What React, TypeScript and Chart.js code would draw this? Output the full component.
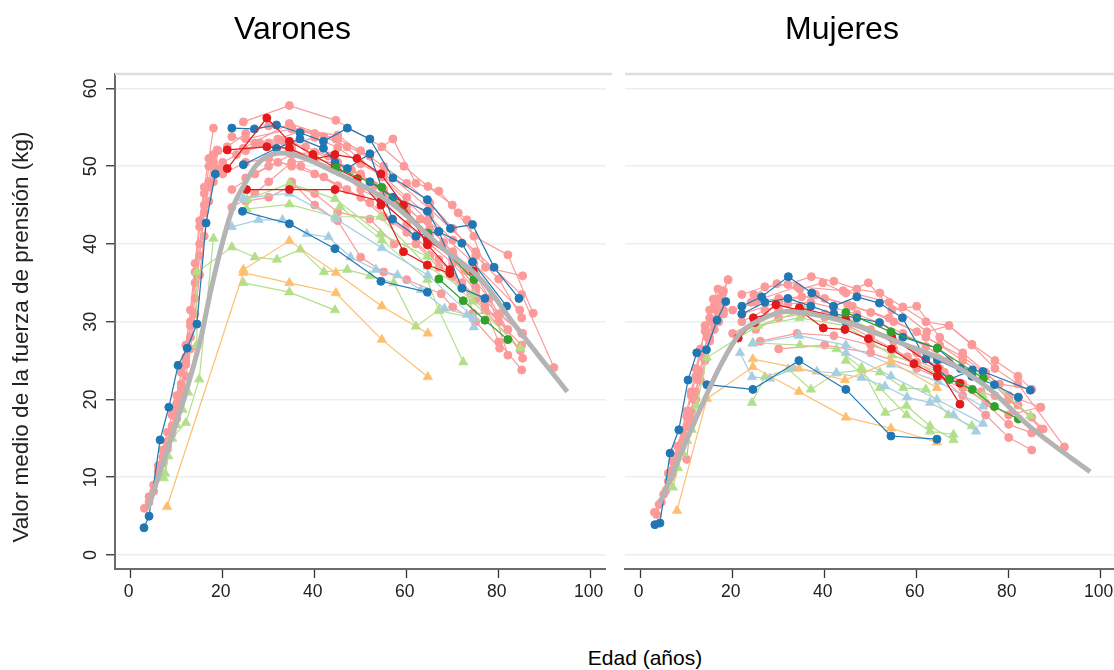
import React, { useEffect, useRef } from "react";
import { Chart, registerables } from "chart.js";
Chart.register(...registerables);

type Pt = [number, number];

const FONT = '"Liberation Sans", Arial, Helvetica, sans-serif';
const COLORS = {
  pink: "#fb9a99",
  blue: "#1f78b4",
  red: "#e31a1c",
  green: "#33a02c",
  lgreen: "#b2df8a",
  lblue: "#a6cee3",
  orange: "#fdbf6f",
  grey: "#b4b4b4",
};

const xTicks = [0, 20, 40, 60, 80, 100];
const yTicks = [0, 10, 20, 30, 40, 50, 60];
const panelTitles = ["Varones", "Mujeres"];
const yTitle = "Valor medio de la fuerza de prensión (kg)";
const xTitle = "Edad (años)";

// ---------------- VARONES ----------------
const menFit: Pt[] = [
  [3.8, 6.0], [15.1, 27.5], [17.3, 33.7], [20.1, 40.5], [22.3, 44.8], [24.5, 47.4],
  [27.4, 50.2], [32.5, 51.7], [45.6, 48.9], [56.5, 45.3], [67.5, 39.6], [76.2, 35.4],
  [82.7, 30.2], [94.9, 21.0],
];

const menPinkChild: Pt[][] = [
  [[3, 6], [4, 7.5], [5, 9], [6, 10.8], [7, 12.6], [8, 14.6], [9, 16.6], [10, 18.8], [11, 21.5], [12, 24.5], [13, 28], [14, 33], [15, 38.5], [16, 44], [17, 48], [18, 51.5]],
  [[4, 6.8], [5, 8.2], [6, 10], [7, 11.8], [8, 13.6], [9, 15.6], [10, 17.5], [11, 20], [12, 23], [13, 26.5], [14, 31], [15, 36], [16, 41], [17, 45.5], [18, 48], [19, 52]],
  [[6, 11.5], [7, 13.5], [8, 15.8], [9, 18], [10, 20.5], [11, 23.5], [12, 27], [13, 31.5], [14, 37.5], [15, 43], [16, 47.3], [17, 51], [18, 54.9]],
  [[7, 12], [8, 14], [9, 16], [10, 18], [11, 21], [12, 25], [13, 29.5], [14, 35], [15, 40], [16, 45], [17, 50], [18, 50.5]],
  [[10, 19.5], [11, 22], [12, 25.5], [13, 30], [14, 36.4], [15, 42.2], [16, 46.5], [17, 47.3], [18, 50], [19.4, 49.7]],
];

const menPinkAdult: Pt[][] = [
  [[24.5, 55.7], [34.5, 57.8], [44.6, 55.9], [54.6, 52.5], [59.4, 50.0], [64.6, 47.4], [69.9, 45.0], [74.6, 41.0], [82, 38.6], [87.5, 31.1]],
  [[21, 52.5], [25, 54.2], [30, 55.2], [35, 55.0], [40, 54.2], [45, 53.5], [50, 52.0], [55, 50.0], [60, 47.8], [65, 45.3], [70, 42], [75, 38.5], [80, 35.5], [85, 30.5]],
  [[22, 53.8], [27, 53.0], [32, 53.5], [37, 54.5], [42, 53.8], [47, 52.5], [52, 51.3], [57, 53.5], [62, 47.8], [67, 46.8], [71.2, 44.0], [73.1, 43.1], [77.1, 37.0], [85.2, 35.9]],
  [[20, 50.5], [25, 52], [30, 52.8], [35, 52.2], [40, 51], [45, 50.2], [50, 48.8], [55, 47], [60, 44.8], [65, 42], [70, 39], [75, 36], [80, 31], [85, 28.5]],
  [[22, 44.7], [27, 46.5], [30, 48], [35, 50.5], [40, 50.8], [45, 49.5], [50, 47], [55, 45.5], [60, 42.5], [65, 40], [70, 37.5], [75, 34], [80, 31.0], [85.2, 25.3]],
  [[25, 48.5], [30, 50], [35, 51.5], [40, 51.8], [45, 50.5], [50, 49], [55, 46.5], [60, 44], [65, 41], [70, 38], [75, 34.5], [80, 27.4], [85, 23.8]],
  [[18.8, 52.1], [23, 51.5], [28, 53], [33, 53.3], [38, 52.5], [43, 51.3], [48, 49.5], [53, 47.5], [58, 45.5], [63, 43.2], [68, 40.2], [73, 36.5], [78, 33], [82, 25.7]],
  [[25, 53.5], [35, 54.8], [45, 54], [55, 49.5], [65, 44.5], [75, 39], [85, 33.5], [92, 24.1]],
  [[30, 53], [35, 52.8], [40, 53.7], [45, 52.4], [50, 50.3], [55, 48.7], [60, 46], [65, 43.5], [70, 40.5], [74.4, 31.1], [80.2, 31.0], [85.2, 28.5]],
  [[35, 48], [40, 45], [45, 43], [50, 38.3], [55, 36.4], [60, 35.4], [67.5, 33.6], [70, 31.9], [75, 30], [80.2, 26.6]],
  [[25, 45.5], [30, 46], [35, 47.5], [40, 46.5], [45, 44.1], [52, 43.2], [57.3, 40], [62, 40], [67, 37], [72, 34.5], [77, 31.5], [84.7, 26.3]],
  [[20, 49], [25, 50.5], [30, 51], [35, 50], [40, 49], [45, 47.5], [50, 46], [55, 43.5], [60, 41.5], [65, 38.5], [70, 35.8], [75, 33], [80, 30], [85, 27]],
  [[24.5, 52.3], [34.5, 55.5], [44.6, 53.5], [54.6, 48.6], [64.6, 43], [74.6, 37.5], [84.6, 31.5]],
  [[22, 47], [27, 49], [32, 50.5], [37, 50], [42, 48.6], [47, 47], [52, 45.3], [57, 43], [62, 40.8], [67, 38], [72, 35], [77, 32], [82, 29]],
];

const menBlue: Pt[][] = [
  [[2.9, 3.5], [4, 5], [6.4, 14.8], [8.3, 19], [10.3, 24.4], [12.3, 26.6], [14.4, 29.7], [16.4, 42.7], [18.4, 49]],
  [[22, 54.9], [26.9, 54.8], [31.7, 55.3], [36.8, 54.3], [41.9, 53.2], [47.1, 54.9], [52, 53.5], [57, 48.5], [64.5, 45.7], [69.5, 42], [74.3, 42.5], [79, 37], [84.4, 33.0]],
  [[24.5, 50.2], [31.7, 52.3], [36.8, 53.5], [41.9, 52.3], [44.4, 50.5], [47.1, 49.7], [52, 51.6], [56.9, 43.2], [62, 41.0], [66.9, 41.6], [72, 40.1], [74.3, 37.7], [81.7, 32.0]],
  [[24.3, 44.2], [34.5, 42.6], [44.4, 39.4], [54.4, 35.2], [64.5, 33.8]],
  [[52, 48], [57, 46], [64.5, 44.2], [67, 41.6], [72, 34.3], [77, 33]],
];

const menRed: Pt[][] = [
  [[21, 52.1], [29.6, 52.5], [34.5, 52.3], [39.6, 50.9], [44.4, 51.5], [49.2, 51.0], [54.4, 49.0], [59.3, 45], [64.5, 39.9], [69.4, 36.7]],
  [[21, 49.7], [29.6, 56.2], [34.5, 53.2], [39.6, 51.5], [44.4, 49.8], [49.3, 48.4], [54.4, 45.0], [59.3, 39.0], [64.5, 37.3], [69.4, 36.2]],
  [[25.2, 47], [34.5, 47], [44.4, 47], [54.4, 45.5], [64.5, 40.5], [74.5, 36.5]],
];

const menGreen: Pt[][] = [
  [[44.6, 49.8], [54.6, 47.3], [64.6, 41.4], [74.6, 35.4]],
  [[67, 35.5], [72.3, 32.7], [77, 30.2], [82, 27.7]],
];

const menLGreen: Pt[][] = [
  [[7.2, 9.9], [8.2, 12.7], [9, 15], [10, 16.7], [11.3, 18.7], [12.5, 20.9], [14.3, 27], [14.4, 36.4], [22, 39.6], [27, 38.3], [31.8, 38.0], [36.9, 39.3], [42, 36.4], [47.1, 36.7], [52, 35.9], [57.2, 35], [62, 29.4], [67, 31.5], [72.3, 24.8]],
  [[7.5, 10.5], [8.9, 15], [12, 17.0], [14.9, 22.6], [18, 40.7]],
  [[25.3, 45.7], [34.5, 47.8], [44.4, 45.8], [54.3, 41.3], [64.5, 38.4], [74.3, 32.6], [84.7, 26.6]],
  [[25.2, 44.5], [34.5, 45.1], [44.4, 43.5], [54.3, 43.5], [64.5, 37.1], [74.6, 33.5]],
  [[24.5, 35.0], [34.5, 33.8], [44.4, 31.5]],
  [[45.5, 44.8], [54.6, 40.5], [64.5, 35.4], [67, 31.4], [74.6, 30.5]],
];

const menLBlue: Pt[][] = [
  [[22, 42.2], [27.8, 43.1], [33, 43.1], [38.3, 41.3], [43, 40.9], [47.8, 38.3], [53.3, 36.7], [58, 36.0], [63.1, 34.1], [68.2, 31.7], [73.1, 30.9], [74.6, 29.3]],
  [[24.5, 45.9], [34.5, 46.5], [44.6, 43.2], [54.6, 39.5], [64.6, 36], [74.6, 30.5]],
];

const menOrange: Pt[][] = [
  [[7.9, 6.2], [24.5, 36.3], [34.5, 35.0], [44.6, 33.7], [54.6, 27.7], [64.6, 22.9]],
  [[24.5, 36.7], [34.5, 40.4], [44.6, 36.3], [54.6, 32.0], [64.6, 28.5]],
];

// ---------------- MUJERES ----------------
const womenFit: Pt[] = [
  [4.2, 6.7], [12.9, 18.7], [17.2, 24.2], [21.6, 28.5], [25.9, 30.2], [31.8, 31.3],
  [40.5, 30.6], [45.5, 29.8], [56.4, 27.3], [67.2, 24.7], [75.9, 21.3], [84.6, 16.5], [97.7, 10.7],
];

const womenPinkChild: Pt[][] = [
  [[3, 5.5], [4, 6.5], [5, 7.8], [6, 9.5], [7, 11], [8, 12.8], [9, 14.5], [10, 16.5], [11, 18.5], [12, 21], [13, 23.5], [14, 26], [15, 28], [16, 30], [17, 31], [18, 31.5]],
  [[3.5, 5.2], [4.5, 6.8], [5.5, 8.3], [6.5, 10], [7.5, 11.8], [8.5, 13.6], [9.5, 15.3], [10.5, 17.5], [11.5, 20], [12.5, 22.5], [13.5, 25.5], [14.5, 28], [15.5, 30], [16.5, 31.5], [17.5, 32.5]],
  [[6, 10.5], [7, 12], [8, 14], [9, 16], [10, 18.5], [11, 21], [12, 24], [13, 26.5], [14, 28.8], [15, 30.5], [16, 32], [17, 33], [18, 34], [19, 35.4]],
  [[7, 10.5], [8, 12.5], [9, 14], [10, 12.3], [11, 17.5], [12, 20], [13, 22.5], [14, 25], [15, 27.5], [16, 29], [17, 30], [18, 31]],
  [[9, 16], [10, 17.8], [11, 20.5], [12, 23], [13, 26], [14, 29.5], [15, 31.5], [15.8, 32.9], [16.8, 34.2], [17.9, 33.7], [19, 35.4]],
];

const womenPinkAdult: Pt[][] = [
  [[22, 33.5], [27, 34.5], [32, 34.8], [37.1, 35.8], [42, 35.2], [47, 34.2], [52, 33.7], [57, 31.9], [62, 30], [67, 29.5], [72, 27.1], [77, 25.0], [82, 23.0], [85, 21.3]],
  [[24.6, 33.5], [29.6, 34.9], [34.6, 34.2], [39.6, 35.0], [44.6, 33.7], [49.5, 35.0], [54.6, 31.5], [60, 32.0], [65, 28], [70, 26], [75, 23.5], [80, 20.5], [87, 19.0]],
  [[20, 31.5], [25, 32.5], [30, 33], [35, 33.2], [40, 33], [45, 32.2], [50, 31.2], [55, 30], [60, 28.7], [65, 27], [70, 25], [75, 23], [80, 20], [85, 17.7]],
  [[22, 30], [27, 31.5], [32, 32.3], [37, 32.5], [42, 31.8], [47, 31], [52, 29.8], [57, 28.5], [62, 26.8], [67, 25], [72, 23], [77, 20.5], [82, 19.3], [87, 16.2]],
  [[25, 29], [30, 30.5], [35, 31], [40, 30.6], [45, 30], [50, 29], [55, 27.5], [60, 26], [65, 24], [70, 22], [75, 19.5], [80, 16.8], [85, 15.7]],
  [[20, 28.5], [25, 30], [30, 31.5], [35, 31.5], [40, 31], [45, 29.5], [50, 28], [55, 26.5], [60, 24.8], [65, 23], [70, 20.5], [75, 18], [80, 15.1], [85, 13.5]],
  [[24, 32.5], [34, 34.5], [44, 34], [54, 32.5], [62.2, 28.7], [67, 29.5], [72, 27], [77, 24], [82, 22], [92.1, 13.9]],
  [[22, 31], [30, 32.5], [38, 33.5], [46, 32], [54, 30.5], [62, 28], [70, 25.5], [78, 22], [84.9, 21.3]],
  [[26, 27.5], [34, 28.5], [42, 28.2], [50, 27], [58, 25.5], [66, 23.5], [74, 21], [82, 19.3], [87.5, 16.2]],
  [[30, 26.5], [40, 27], [50, 26], [60, 24], [70, 21.5], [80, 18], [86.8, 19.0]],
];

const womenBlue: Pt[][] = [
  [[3.1, 3.9], [4.2, 4.1], [6.4, 13.1], [8.3, 16.1], [10.3, 22.5], [12.2, 26], [14.3, 26.4], [16.6, 30.2], [18.5, 32.6]],
  [[22, 32], [26.3, 33.2], [32.1, 35.8], [37.2, 33.7], [41.9, 32.0], [47, 33.2], [51.9, 32.4], [56.9, 30.5], [62, 25.2], [67.1, 22.6], [72.1, 23.8]],
  [[22, 31], [27, 32.5], [32, 33], [37, 32], [42, 31], [47, 30.5], [51.9, 29.9], [57, 28], [64.5, 26.6], [69.5, 24], [74.4, 23.6], [84.7, 21.2]],
  [[44.6, 30], [54.6, 28], [64.5, 25.1], [72, 23], [76.9, 21.9], [82.1, 20.3]],
  [[14.4, 21.9], [24.4, 21.3], [34.4, 25.0], [44.6, 21.3], [54.4, 15.3], [64.4, 14.9]],
];

const womenRed: Pt[][] = [
  [[21.2, 27.9], [24.8, 29.9], [29.4, 32.2], [34.5, 31.5], [39.7, 29.2], [44.4, 29.0], [49.5, 27.8], [54.5, 26.5], [59.4, 24.6], [64.5, 23], [69.4, 22.1]],
  [[24.5, 30.5], [34.5, 31.8], [44.5, 30.3], [54.5, 28.0], [64.5, 24.0], [69.4, 19.4]],
];

const womenGreen: Pt[][] = [
  [[44.6, 31.2], [54.4, 28.7], [64.5, 26.6], [74.5, 22.7]],
  [[67.1, 22.6], [72.1, 21.3], [76.9, 19.1], [82.1, 17.5]],
];

const womenLGreen: Pt[][] = [
  [[7, 8.7], [8.1, 11.2], [9.2, 13.1], [10.1, 14.7], [11.1, 16.1], [12.2, 19.2], [14.4, 25.4], [25.5, 29.5], [35.6, 31.5], [44.6, 30.5], [54.5, 28], [64.5, 25], [74.4, 23.2], [84.7, 17.9]],
  [[24.4, 27.3], [34.6, 27.0], [42.6, 26.5], [48, 24.1], [53.2, 18.3], [57.8, 19.2], [62.9, 16.6], [68, 14.8]],
  [[24.2, 19.6], [27, 22.9], [32.1, 23.9], [37, 21.3], [42.5, 23.4], [48.1, 23.8], [52, 23.5], [57.1, 21.5], [62, 21.3], [66.9, 18.0], [72, 16.6]],
  [[24.5, 29.4], [34.5, 30.5], [44.5, 29.5], [54.6, 25.7], [64.7, 23.6], [74.4, 20.5]],
  [[44.6, 25], [52, 21.5], [57.8, 18.0], [62.9, 15.9], [68, 15.5]],
];

const womenLBlue: Pt[][] = [
  [[21.6, 26], [24.2, 22.9], [28.1, 22.7], [33.3, 24], [38.3, 23.6], [42.6, 23.4], [48, 22.8], [53.1, 21.7], [57.9, 20.3], [62.9, 19.6], [68, 18.0], [72.9, 15.9]],
  [[24.4, 27.2], [34.4, 28.2], [44.6, 27.0], [54.4, 24.5], [64.7, 22.3], [74.4, 19.1]],
  [[44.6, 26], [54.4, 23], [64.4, 20], [74.4, 16.9]],
];

const womenOrange: Pt[][] = [
  [[7.9, 5.7], [14.4, 20.1], [24.4, 24.2], [34.4, 21.0], [44.6, 17.7], [54.4, 16.3], [64.4, 14.5]],
  [[24.4, 25.2], [34.4, 24.0], [44.4, 22.5], [54.4, 24.9], [64.4, 21.5]],
];

// ---------------- helpers ----------------
function group(series: Pt[][], color: string, style: "circle" | "triangle") {
  return series.map((s) => ({
    data: s.map(([x, y]) => ({ x, y })),
    showLine: true,
    borderColor: color,
    backgroundColor: color,
    borderWidth: 1.2,
    pointStyle: style,
    pointRadius: style === "triangle" ? 5.6 : 4,
    pointBorderWidth: style === "triangle" ? 0.5 : 1,
    pointBorderColor: color,
    pointBackgroundColor: color,
    tension: 0,
  }));
}

function fitLine(pts: Pt[]) {
  return {
    data: pts.map(([x, y]) => ({ x, y })),
    showLine: true,
    borderColor: COLORS.grey,
    borderWidth: 5,
    pointRadius: 0,
    cubicInterpolationMode: "monotone" as const,
    borderCapStyle: "butt" as const,
  };
}

type PanelData = {
  fit: Pt[];
  pinkChild: Pt[][];
  pinkAdult: Pt[][];
  blue: Pt[][];
  red: Pt[][];
  green: Pt[][];
  lgreen: Pt[][];
  lblue: Pt[][];
  orange: Pt[][];
};

const panels: PanelData[] = [
  { fit: menFit, pinkChild: menPinkChild, pinkAdult: menPinkAdult, blue: menBlue, red: menRed, green: menGreen, lgreen: menLGreen, lblue: menLBlue, orange: menOrange },
  { fit: womenFit, pinkChild: womenPinkChild, pinkAdult: womenPinkAdult, blue: womenBlue, red: womenRed, green: womenGreen, lgreen: womenLGreen, lblue: womenLBlue, orange: womenOrange },
];

function buildDatasets(p: PanelData) {
  // first dataset is drawn on top
  return [
    fitLine(p.fit),
    ...group(p.green, COLORS.green, "circle"),
    ...group(p.red, COLORS.red, "circle"),
    ...group(p.blue, COLORS.blue, "circle"),
    ...group(p.orange, COLORS.orange, "triangle"),
    ...group(p.lblue, COLORS.lblue, "triangle"),
    ...group(p.lgreen, COLORS.lgreen, "triangle"),
    ...group(p.pinkAdult, COLORS.pink, "circle"),
    ...group(p.pinkChild, COLORS.pink, "circle"),
  ];
}

function decoPlugin(isLeft: boolean) {
  return {
    id: "panelDeco" + (isLeft ? "L" : "R"),
    beforeDatasetsDraw(chart: any) {
      const { ctx, chartArea } = chart;
      ctx.save();
      ctx.strokeStyle = "#d6e0e6";
      ctx.lineWidth = 2.5;
      ctx.beginPath();
      ctx.moveTo(chartArea.left, chartArea.top);
      ctx.lineTo(chartArea.right + 10, chartArea.top);
      ctx.stroke();
      ctx.restore();
    },
    afterDraw(chart: any) {
      if (!isLeft) return;
      const ctx = chart.ctx;
      const ys = chart.scales.y;
      ctx.save();
      ctx.fillStyle = "#222";
      ctx.font = `18px ${FONT}`;
      ctx.textAlign = "center";
      ctx.textBaseline = "alphabetic";
      yTicks.forEach((v) => {
        const py = ys.getPixelForValue(v);
        ctx.save();
        ctx.translate(96, py);
        ctx.rotate(-Math.PI / 2);
        ctx.fillText(String(v), 0, 0);
        ctx.restore();
      });
      ctx.font = `22.5px ${FONT}`;
      ctx.translate(28, 337);
      ctx.rotate(-Math.PI / 2);
      ctx.fillText(yTitle, 0, 0);
      ctx.restore();
    },
  };
}

function Panel({ idx }: { idx: number }) {
  const ref = useRef<HTMLCanvasElement | null>(null);
  useEffect(() => {
    if (!ref.current) return;
    const isLeft = idx === 0;
    const chart = new Chart(ref.current, {
      type: "scatter",
      data: { datasets: buildDatasets(panels[idx]) as any },
      options: {
        responsive: false,
        animation: false,
        layout: { padding: { top: 74, right: 6, left: 0, bottom: 0 } },
        plugins: {
          legend: { display: false },
          tooltip: { enabled: false },
          title: { display: false },
        },
        scales: {
          x: {
            type: "linear",
            min: -3.4,
            max: 103.3,
            afterBuildTicks: (s: any) => {
              s.ticks = xTicks.map((v) => ({ value: v }));
            },
            afterFit: (s: any) => {
              s.height = 51;
            },
            grid: {
              drawOnChartArea: false,
              drawTicks: true,
              tickLength: 9,
              tickColor: "#333",
              tickWidth: 1.3,
            },
            border: { display: true, color: "#6b6b6b", width: 2 },
            ticks: {
              font: { family: FONT, size: 17.5 },
              color: "#222",
              padding: 4,
              labelOffset: -2,
              maxRotation: 0,
              autoSkip: false,
            },
          },
          y: {
            type: "linear",
            min: -1.8,
            max: 61.86,
            afterBuildTicks: (s: any) => {
              s.ticks = yTicks.map((v) => ({ value: v }));
            },
            afterFit: (s: any) => {
              s.width = 115;
            },
            grid: {
              color: "#e9f0f2",
              lineWidth: 1.5,
              drawTicks: isLeft,
              tickLength: 9,
              tickColor: "#333",
              tickWidth: 1.3,
            },
            border: { display: isLeft, color: "#6b6b6b", width: 2 },
            ticks: {
              color: "rgba(0,0,0,0)",
              font: { family: FONT, size: 18 },
            },
          },
        },
      } as any,
      plugins: [decoPlugin(isLeft)],
    });
    return () => chart.destroy();
  }, [idx]);
  return (
    <canvas
      ref={ref}
      width={612}
      height={620}
      style={{ position: "absolute", left: idx === 0 ? 0 : 510, top: 0, width: 612, height: 620 }}
    />
  );
}

export default function App() {
  return (
    <div
      style={{
        position: "absolute",
        left: 0,
        top: 0,
        width: 1114,
        height: 670,
        overflow: "hidden",
        background: "#fff",
        fontFamily: FONT,
      }}
    >
      <Panel idx={0} />
      <Panel idx={1} />
      <div style={{ position: "absolute", left: 292.5 - 150, width: 300, top: 12, fontSize: 32, lineHeight: "32px", textAlign: "center", color: "#000" }}>
        {panelTitles[0]}
      </div>
      <div style={{ position: "absolute", left: 842 - 150, width: 300, top: 12, fontSize: 32, lineHeight: "32px", textAlign: "center", color: "#000" }}>
        {panelTitles[1]}
      </div>
      <div style={{ position: "absolute", left: 645 - 150, width: 300, top: 647, fontSize: 21, lineHeight: "21px", textAlign: "center", color: "#000" }}>
        {xTitle}
      </div>
    </div>
  );
}
